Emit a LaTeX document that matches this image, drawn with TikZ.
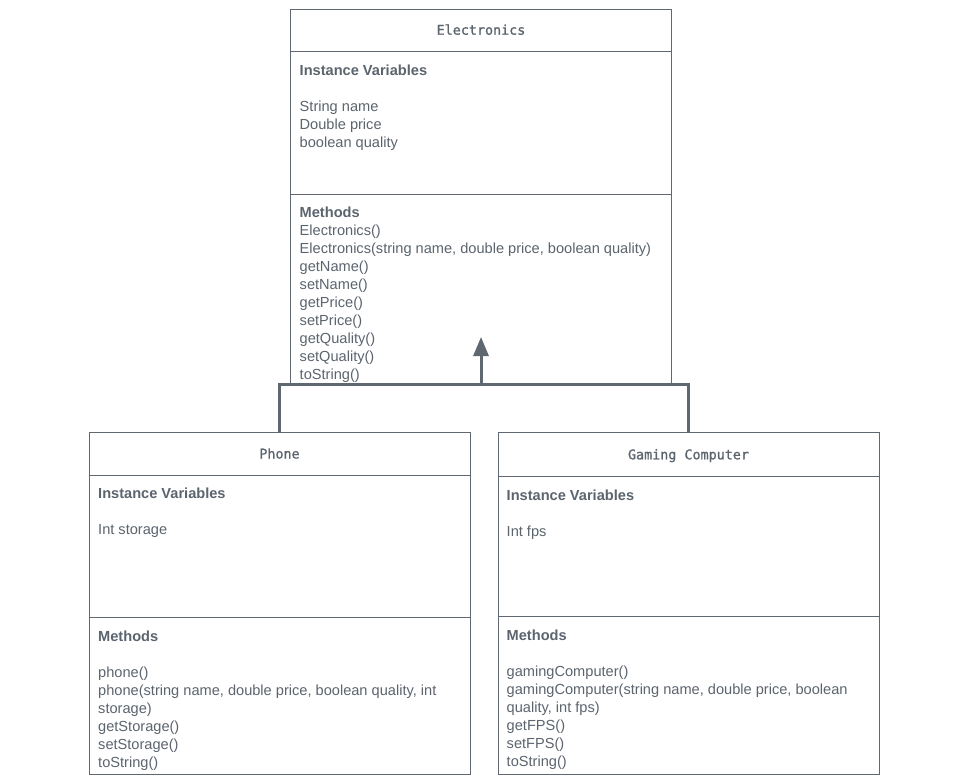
\documentclass[tikz,border=0pt]{standalone}
\usepackage{fontspec}
\setmainfont{Liberation Sans}
\newfontfamily\titlefont[BoldFont=DejaVu Sans Mono, BoldFeatures={FakeBold=1}]{DejaVu Sans Mono}
\usetikzlibrary{arrows.meta}
\definecolor{umlline}{RGB}{95,103,113}
\definecolor{umltext}{RGB}{92,100,110}
\begin{document}
\begin{tikzpicture}[x=1pt,y=-1pt,
  classbox/.style={draw=umlline, line width=1pt, minimum width=381pt, inner sep=0pt, anchor=north west},
  divider/.style={draw=umlline, line width=1pt},
  txt/.style={anchor=base west, inner sep=0pt, text=umltext, font=\fontsize{14.6pt}{18pt}\selectfont},
  ttl/.style={anchor=base, inner sep=0pt, text=umltext, font=\titlefont\bfseries\fontsize{13.4pt}{16pt}\selectfont},
  conn/.style={draw=umlline, line width=3pt, line join=miter}
]
\useasboundingbox[fill=white] (0,0) rectangle (968,782);

% class boxes
\node[classbox, minimum height=375pt] (elec) at (290.3,8.5) {};
\node[classbox, minimum height=342pt] (phone) at (88.5,431.5) {};
\node[classbox, minimum height=342pt] (gaming) at (497.8,431.5) {};

% compartment dividers
\coordinate (e1) at (0,51.5);
\coordinate (e2) at (0,194.5);
\coordinate (p1) at (0,475.5);
\coordinate (p2) at (0,617.5);
\coordinate (g1) at (0,476.5);
\coordinate (g2) at (0,616.5);
\draw[divider] (elec.west |- e1) -- (elec.east |- e1);
\draw[divider] (elec.west |- e2) -- (elec.east |- e2);
\draw[divider] (phone.west |- p1) -- (phone.east |- p1);
\draw[divider] (phone.west |- p2) -- (phone.east |- p2);
\draw[divider] (gaming.west |- g1) -- (gaming.east |- g1);
\draw[divider] (gaming.west |- g2) -- (gaming.east |- g2);

% titles
\node[ttl] (etitle) at (481,34.7) {Electronics};
\node[ttl] (ptitle) at (279.5,458.5) {Phone};
\node[ttl] (gtitle) at (688.5,459.3) {Gaming Computer};

% Electronics
\node[txt] (eiv) at (299.5,75.5) {\bfseries Instance Variables};
\foreach \t [count=\i from 0] in {{String name},{Double price},{boolean quality}}
  \node[txt] (ev\i) at (299.5,111.5+18*\i) {\t};
\node[txt] (emh) at (299.5,217.5) {\bfseries Methods};
\foreach \t [count=\i from 0] in {{Electronics()},{Electronics(string name, double price, boolean quality)},{getName()},{setName()},{getPrice()},{setPrice()},{getQuality()},{setQuality()},{toString()}}
  \node[txt] (em\i) at (299.5,235.5+18*\i) {\t};

% Phone
\node[txt] (piv) at (98,498.5) {\bfseries Instance Variables};
\node[txt] (pv0) at (98,534.5) {Int storage};
\node[txt] (pmh) at (98,641.5) {\bfseries Methods};
\foreach \t [count=\i from 0] in {{phone()},{phone(string name, double price, boolean quality, int},{storage)},{getStorage()},{setStorage()},{toString()}}
  \node[txt] (pm\i) at (98,677.5+18*\i) {\t};

% Gaming Computer
\node[txt] (giv) at (506.5,500.5) {\bfseries Instance Variables};
\node[txt] (gv0) at (506.5,536.5) {Int fps};
\node[txt] (gmh) at (506.5,640.5) {\bfseries Methods};
\foreach \t [count=\i from 0] in {{gamingComputer()},{gamingComputer(string name, double price, boolean},{quality, int fps)},{getFPS()},{setFPS()},{toString()}}
  \node[txt] (gm\i) at (506.5,676.5+18*\i) {\t};

% inheritance connector
\coordinate (join) at (481,384);
\coordinate (tip) at (481,337);
\draw[conn] (phone.north) |- (join) -| (gaming.north);
\draw[conn, -{Triangle[length=19pt,width=15pt]}] (join) -- (tip);
\end{tikzpicture}
\end{document}
